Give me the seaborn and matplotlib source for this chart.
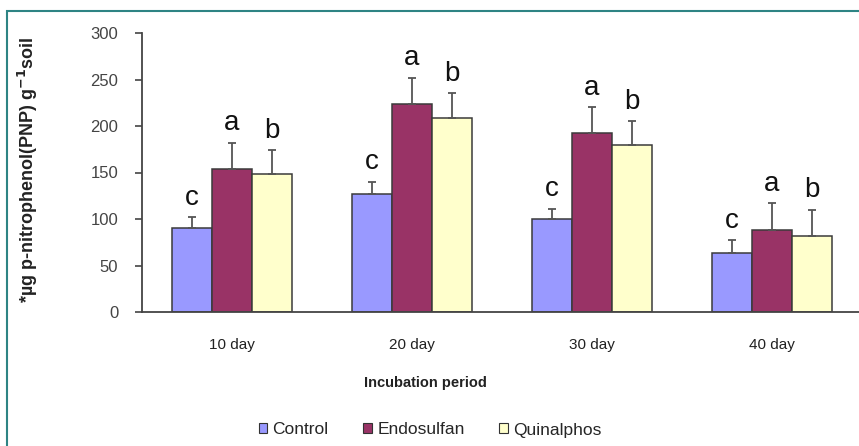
import numpy as np
import pandas as pd
import matplotlib
matplotlib.use("Agg")
import matplotlib.pyplot as plt
from matplotlib.patches import Rectangle, Patch
import seaborn as sns

# Values
periods = ["10 day", "20 day", "30 day", "40 day"]
treatments = ["Control", "Endosulfan", "Quinalphos"]
control = [90, 127, 100, 63]
endosulfan = [154, 224, 193, 88]
quinalphos = [148, 209, 180, 82]
control_err = [12, 13, 11, 14]
endosulfan_err = [28, 28, 27, 29]
quinalphos_err = [26, 26, 25, 28]
letters = ["c", "a", "b"]

colors = ["#9999FF", "#993366", "#FFFFCC"]

# Build long table for seaborn
rows = []
for t, vals, errs in zip(treatments, [control, endosulfan, quinalphos],
                         [control_err, endosulfan_err, quinalphos_err]):
    for p, v, e in zip(periods, vals, errs):
        rows.append({"period": p, "treatment": t, "value": v, "err": e})
df = pd.DataFrame(rows)

sns.set_style("white")
plt.rcParams["font.family"] = ["Liberation Sans", "DejaVu Sans"]

fig = plt.figure(figsize=(8.59, 4.46), dpi=100)
ax = fig.add_axes([142 / 859, 134 / 446, 720 / 859, 279 / 446])

sns.barplot(data=df, x="period", y="value", hue="treatment",
            order=periods, hue_order=treatments, palette=colors,
            width=0.667, gap=0, errorbar=None, edgecolor="#3a3a3a",
            linewidth=1.1, saturation=1, legend=False, ax=ax)

# error bars (upper only) and significance letters on top of each bar
for i, t in enumerate(treatments):
    sub = df[df.treatment == t].set_index("period").loc[periods]
    bars = ax.containers[i]
    for bar, v, e in zip(bars, sub["value"], sub["err"]):
        xc = bar.get_x() + bar.get_width() / 2
        ax.errorbar(xc, v, yerr=[[0], [e]], fmt="none", ecolor="#555555",
                    elinewidth=1.3, capsize=3, capthick=1.3)
        ax.text(xc, v + e + 7, letters[i], ha="center", va="bottom",
                fontsize=20, color="#111111")

ax.set_ylim(0, 300)
ax.set_xlim(-0.5, 3.5)
ax.set_yticks(range(0, 301, 50))
ax.set_xticks(np.arange(-0.5, 3.6, 1.0), minor=True)
ax.tick_params(axis="x", which="major", length=0, pad=19, labelsize=11,
               labelcolor="#222222")
ax.tick_params(axis="x", which="minor", length=4, width=1.2, color="#444444")
ax.tick_params(axis="y", which="major", length=5, width=1.2, color="#444444",
               labelsize=12, labelcolor="#444444", left=True, pad=12)
for s in ["top", "right"]:
    ax.spines[s].set_visible(False)
for s in ["left", "bottom"]:
    ax.spines[s].set_color("#444444")
    ax.spines[s].set_linewidth(1.3)

ax.set_xlabel("")
ax.set_ylabel("")
fig.text(425 / 859, 1 - 383 / 446, "Incubation period", ha="center",
         va="center", fontsize=10.5, fontweight="bold", color="#222222")
fig.text(28 / 859, 1 - 170 / 446, "*\u00b5g p-nitrophenol(PNP) g$^{\\mathbf{-1}}$soil",
         rotation=90, ha="center", va="center", fontsize=13,
         fontweight="bold", color="#222222")

handles = [Patch(facecolor=c, edgecolor="#333333", linewidth=0.8) for c in colors]
fig.legend(handles, treatments, loc="center", ncol=3,
           bbox_to_anchor=(430 / 859, 1 - 430 / 446), frameon=False,
           fontsize=12.5, handlelength=0.5, handleheight=0.5,
           handletextpad=0.3, columnspacing=2.0)

# teal frame around the figure
fig.patches.append(Rectangle((7 / 859, -0.1), 1.2, 1 - 11 / 446 + 0.1,
                             transform=fig.transFigure, fill=False,
                             edgecolor="#2E8484", linewidth=1.5))

fig.savefig("out.png", dpi=100)
